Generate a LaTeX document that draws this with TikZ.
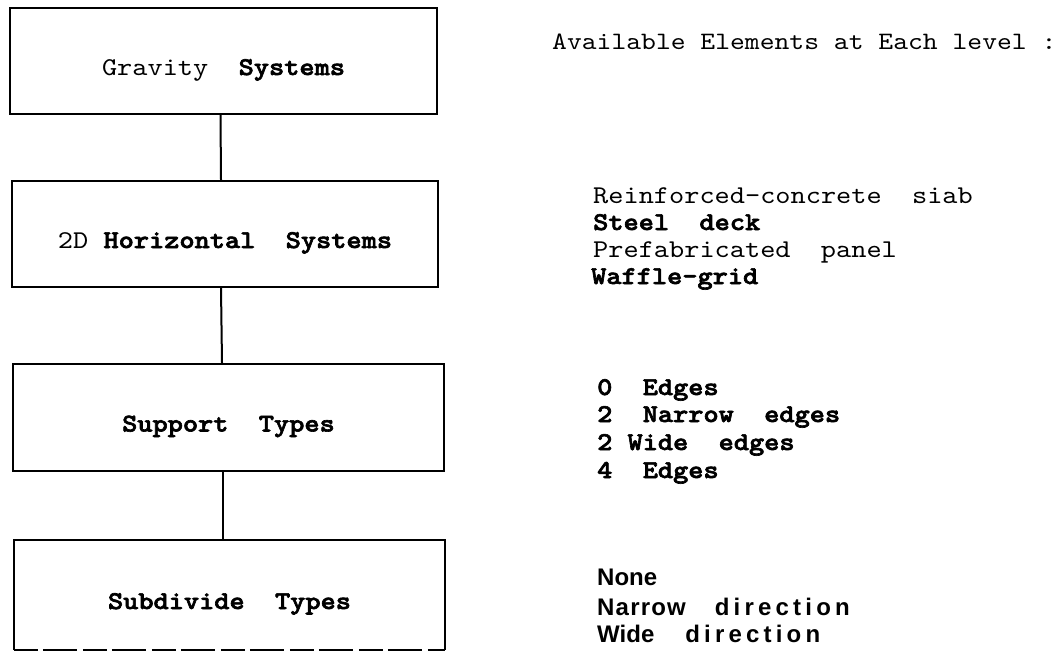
\documentclass[tikz,border=0pt]{standalone}
\usepackage{fontspec}
\setmainfont{lmmono10-regular.otf}[BoldFont=lmmonolt10-bold.otf, BoldFeatures={FakeBold=2.5}, FakeStretch=1.13]
\newfontfamily\sansb{Liberation Sans}
\newfontfamily\sansnarrow{Liberation Sans}[LetterSpace=5]
\newfontfamily\sanswide{Liberation Sans}[LetterSpace=17.5]
\begin{document}
\begin{tikzpicture}[x=1pt,y=-1pt,
  every node/.style={font=\fontsize{25.6}{27}\selectfont},
  box/.style={draw, line width=2.4pt, inner sep=0pt, text height=28pt, text depth=0pt},
  openbox/.style={inner sep=0pt, text height=28pt, text depth=0pt},
  conn/.style={line width=2pt},
  lst/.style={anchor=base west, inner sep=0pt},
  sanslst/.style={anchor=base west, inner sep=0pt, font=\fontsize{24}{26}\selectfont\sansb\bfseries}]
\useasboundingbox (0,0) rectangle (1060,651);
\fill[white] (0,0) rectangle (1060,651);

\node[box, minimum width=427pt, minimum height=106pt] (b1) at (223.5,61) {Gravity~~\textbf{Systems}};
\node[box, minimum width=426pt, minimum height=106pt] (b2) at (225,234) {2D~\textbf{Horizontal~~Systems}};
\node[box, minimum width=431pt, minimum height=107pt] (b3) at (228.5,417.5) {\textbf{Support~~Types}};
\node[openbox, minimum width=431pt, minimum height=110pt] (b4) at (229.5,595) {\textbf{Subdivide~~Types}};
\draw[line width=2.4pt] (b4.south west) -- (b4.north west) -- (b4.north east) -- (b4.south east);
\draw[line width=2pt, dash pattern=on 24pt off 5pt on 34pt off 6pt] (b4.south west) -- (b4.south east);

\draw[conn] ([xshift=-3pt]b1.south) -- ([xshift=-4pt]b2.north);
\draw[conn] ([xshift=-4pt]b2.south) -- ([xshift=-6.5pt]b3.north);
\draw[conn] ([xshift=-5.5pt]b3.south) -- ([xshift=-6.5pt]b4.north);

\node[lst, font=\fontsize{25}{27}\selectfont] (hdr) at (552,49) {Available Elements at Each level :};

\node[lst] (r1) at (593,203) {Reinforced-concrete~~siab};
\node[lst] (r2) at (593,230) {\textbf{Steel~~deck}};
\node[lst] (r3) at (593,257) {Prefabricated~~panel};
\node[lst] (r4) at (591,284) {\textbf{Waffle-grid}};

\node[lst] (s1) at (597,395) {\textbf{0~~Edges}};
\node[lst] (s2) at (597,422) {\textbf{2~~Narrow~~edges}};
\node[lst] (s3) at (597,450) {\textbf{2~Wide~~edges}};
\node[lst] (s4) at (597,478) {\textbf{4~~Edges}};

\node[sanslst] (d1) at (597,585) {None};
\node[sanslst] (d2) at (597,615) {{\sansnarrow\bfseries Narrow}\hspace{29pt}{\sanswide\bfseries direction}};
\node[sanslst] (d3) at (597,642) {Wide\hspace{31pt}{\sanswide\bfseries direction}};
\end{tikzpicture}
\end{document}
